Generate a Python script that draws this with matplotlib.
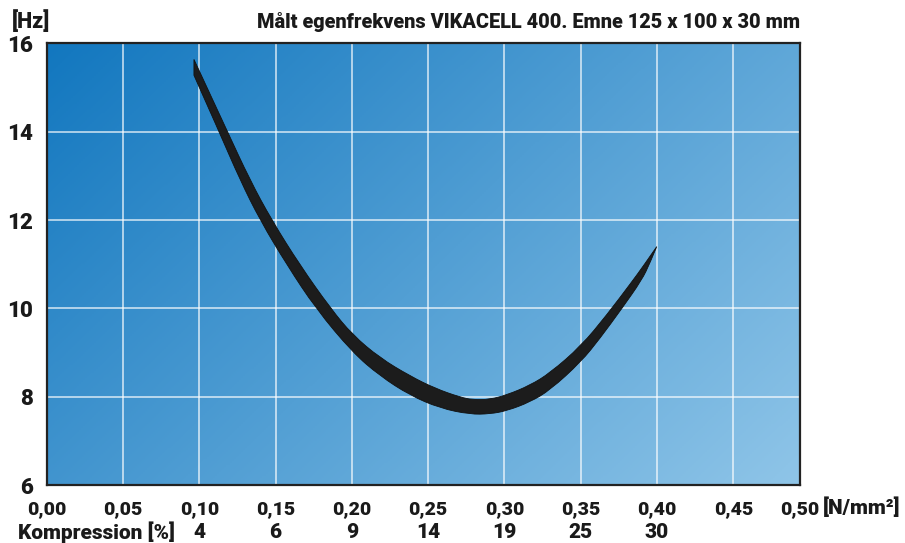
import numpy as np
import matplotlib
matplotlib.use('Agg')
import matplotlib.pyplot as plt
from matplotlib.colors import LinearSegmentedColormap
from matplotlib.path import Path
from matplotlib.patches import PathPatch

plt.rcParams['font.family'] = ['Roboto', 'DejaVu Sans']
W = 'black'

# band edges (x in N/mm2, y in Hz)
upper_x = [0.0965, 0.107, 0.118, 0.1332, 0.1475, 0.166, 0.1863, 0.2005, 0.2184, 0.2381, 0.2545,
           0.2709, 0.2794, 0.2905, 0.3015, 0.3168, 0.3299, 0.3502, 0.367, 0.3834, 0.3908, 0.3998]
upper_y = [15.64, 14.86, 14.04, 12.91, 12.00, 10.98, 9.99, 9.40, 8.88, 8.47, 8.19,
           7.99, 7.93, 7.94, 8.04, 8.26, 8.54, 9.15, 9.85, 10.60, 10.95, 11.40]
lower_x = [0.0965, 0.1125, 0.1267, 0.1398, 0.1575, 0.1765, 0.2005, 0.2184, 0.2381, 0.2578, 0.2774,
           0.2905, 0.3015, 0.3168, 0.3299, 0.3502, 0.3626, 0.3768, 0.39, 0.3954, 0.3998]
lower_y = [15.28, 14.04, 12.91, 12.00, 10.98, 9.99, 9.00, 8.47, 8.03, 7.74, 7.60,
           7.61, 7.68, 7.88, 8.15, 8.79, 9.32, 9.99, 10.64, 11.03, 11.40]

x_ticks = [0.00, 0.05, 0.10, 0.15, 0.20, 0.25, 0.30, 0.35, 0.40, 0.45]
x_labels = ['0,00', '0,05', '0,10', '0,15', '0,20', '0,25', '0,30', '0,35', '0,40', '0,45', '0,50']
x_max = 0.4937
y_ticks = [6, 8, 10, 12, 14, 16]
komp_x = [0.10, 0.15, 0.20, 0.25, 0.30, 0.35, 0.40]
komp_labels = ['4', '6', '9', '14', '19', '25', '30']


def smooth_edge(xs, ys):
    # quadratic b-spline style: read points act as control points, ends kept
    pts = list(zip(xs, ys))
    verts = [pts[0]]
    codes = []
    for i in range(1, len(pts) - 1):
        mid = ((pts[i][0] + pts[i + 1][0]) / 2, (pts[i][1] + pts[i + 1][1]) / 2)
        if i == len(pts) - 2:
            mid = pts[-1]
        verts += [pts[i], mid]
        codes += [Path.CURVE3, Path.CURVE3]
    return verts, codes


fig = plt.figure(figsize=(9.05, 5.43), dpi=100)
ax = fig.add_axes([0.0516, 0.1068, 0.8324, 0.8131])
ax.set_xlim(0, x_max)
ax.set_ylim(6, 16)

# diagonal blue gradient background
cmap = LinearSegmentedColormap.from_list('bg', ['#1277bf', '#8fc5e8'])
u, v = np.meshgrid(np.linspace(0, 1, 400), np.linspace(0, 1, 240))
ax.imshow(0.62 * u + 0.38 * v, cmap=cmap, extent=[0, 1, 0, 1], transform=ax.transAxes,
          aspect='auto', origin='upper', zorder=0, vmin=0, vmax=1)

ax.set_xticks(x_ticks + [x_max])
ax.set_xticklabels(x_labels, fontsize=14, fontweight=W)
ax.set_yticks(y_ticks)
ax.set_yticklabels([str(t) for t in y_ticks], fontsize=16, fontweight=W)
ax.tick_params(length=0, colors='#1a1a1a')
ax.tick_params(axis='x', pad=11)
ax.tick_params(axis='y', pad=10)
ax.grid(True, color='white', lw=1.1, alpha=0.8, zorder=1)
ax.set_axisbelow(False)

uv, uc = smooth_edge(upper_x, upper_y)
lv, lc = smooth_edge(lower_x[::-1], lower_y[::-1])
verts = uv + lv[1:] + [uv[0]]
codes = [Path.MOVETO] + uc + lc + [Path.CLOSEPOLY]
ax.add_patch(PathPatch(Path(verts, codes), facecolor='#1c1c1c', edgecolor='#111111',
                       lw=0.6, zorder=3))

for s in ax.spines.values():
    s.set_color('#222222')
    s.set_linewidth(1.6)
    s.set_zorder(4)

for xv, lab in zip(komp_x, komp_labels):
    ax.text(xv, -0.1076, lab, transform=ax.get_xaxis_transform(), ha='center', va='center',
            fontsize=15, fontweight=W, color='#1a1a1a')
fig.text(0.1934, 0.0193, 'Kompression [%]', ha='right', va='center', fontsize=15,
         fontweight=W, color='#1a1a1a')
fig.text(0.909, 0.0645, '[N/mm²]', ha='left', va='center', fontsize=15,
         fontweight=W, color='#1a1a1a')
fig.text(0.884, 0.948, 'Målt egenfrekvens VIKACELL 400. Emne 125 x 100 x 30 mm', ha='right',
         va='baseline', fontsize=14.3, fontweight=W, color='#1a1a1a')
fig.text(0.013, 0.948, '[Hz]', ha='left', va='baseline', fontsize=15.5, fontweight=W,
         color='#1a1a1a')

fig.savefig('out.png', dpi=100)
